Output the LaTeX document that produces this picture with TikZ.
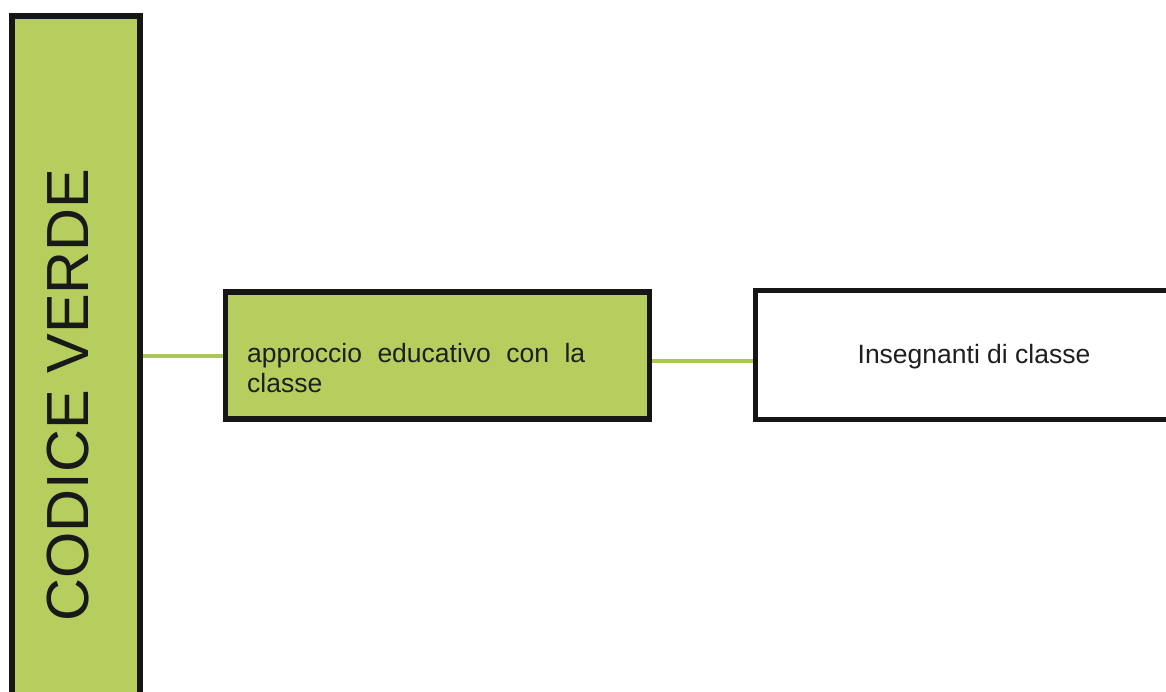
\documentclass[tikz,border=0pt]{standalone}
\usepackage{fontspec}
\setmainfont{Liberation Sans}
\definecolor{boxgreen}{RGB}{181,206,94}
\definecolor{linegreen}{RGB}{170,200,85}
\definecolor{edge}{RGB}{22,22,22}
\tikzset{
  greenbox/.style={draw=edge, fill=boxgreen, line width=5.5pt, rectangle, inner sep=0pt},
  whitebox/.style={draw=edge, fill=white, line width=5.5pt, rectangle, inner sep=0pt},
  link/.style={draw=linegreen, line width=4pt},
  txt/.style={font=\fontsize{26.5}{30}\selectfont, text=black!88, inner sep=0pt}
}
\begin{document}
\begin{tikzpicture}[x=1pt,y=-1pt]
\useasboundingbox (0,0) rectangle (1166,691);
\fill[white] (0,0) rectangle (1166,691);
\clip (0,0) rectangle (1166,691);
% boxes
\node[greenbox, minimum width=128pt, minimum height=760pt] (cv) at (76,396) {};
\node[rotate=90, anchor=base, inner sep=0pt, font=\fontsize{59.5}{60}\selectfont, text=black!90] (cvtext) at (88,395) {CODICE VERDE};
\node[greenbox, minimum width=424pt, minimum height=127pt] (mid) at (437.5,355.5) {};
\node[txt, anchor=base west, align=left] (midtext) at (247,392) {\makebox[338pt][s]{approccio educativo con la}\\classe};
\node[whitebox, minimum width=460pt, minimum height=129pt] (right) at (985.5,355) {};
\node[txt, anchor=base] (righttext) at (974,363) {Insegnanti di classe};
% connectors
\draw[link] (cv.east |- 0,356) -- (mid.west |- 0,356);
\draw[link] (mid.east |- 0,361) -- (right.west |- 0,361);
\end{tikzpicture}
\end{document}
